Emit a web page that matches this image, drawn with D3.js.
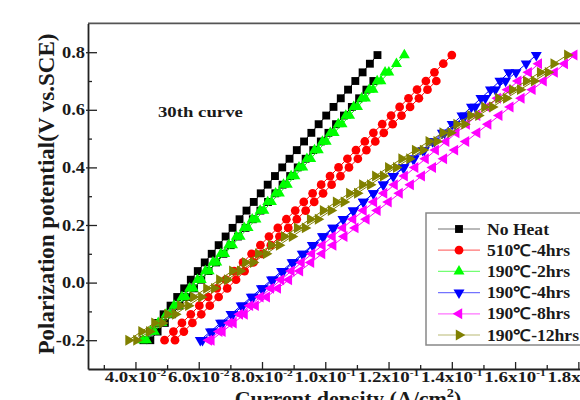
<!DOCTYPE html>
<html>
<head>
<meta charset="utf-8">
<script src="https://cdn.jsdelivr.net/npm/d3@7"></script>
<style>
  html, body { margin: 0; padding: 0; background: #fff; }
  svg { display: block; }
  text { font-family: "Liberation Serif", "Times New Roman", serif; font-weight: bold; fill: #1a1a1a; }
</style>
</head>
<body>
<div id="main"></div>
<script>
// data (potential in V vs. SCE, current density in A/cm2)
const potential = [-0.20, -0.17, -0.14, -0.11, -0.08, -0.05, -0.02, 0.01, 0.04, 0.07,
  0.10, 0.13, 0.16, 0.19, 0.22, 0.25, 0.28, 0.31, 0.34, 0.37, 0.40, 0.43, 0.46, 0.49,
  0.52, 0.55, 0.58, 0.61, 0.64, 0.67, 0.70, 0.73, 0.76, 0.79];

const noHeatA = [0.0425, 0.0446, 0.0468, 0.0489, 0.0511, 0.0532, 0.0554, 0.0575, 0.0597, 0.0619,
  0.0641, 0.0663, 0.0685, 0.0707, 0.0729, 0.0751, 0.0774, 0.0796, 0.0818, 0.0841, 0.0864, 0.0887,
  0.0910, 0.0933, 0.0956, 0.0979, 0.1003, 0.1026, 0.1049, 0.1072, 0.1095, 0.1118, 0.1141, 0.1165];
const noHeatB = [0.0447, 0.0470, 0.0493, 0.0516, 0.0539, 0.0562, 0.0585, 0.0608, 0.0631, 0.0655,
  0.0678, 0.0701, 0.0724, 0.0748, 0.0771, 0.0795, 0.0819, 0.0842, 0.0865, 0.0889, 0.0913, 0.0938,
  0.0962, 0.0986, 0.1010, 0.1034, 0.1059, 0.1084, 0.1107, 0.1130, 0.1152];

const h510A = [0.0492, 0.0520, 0.0547, 0.0575, 0.0602, 0.0630, 0.0657, 0.0685, 0.0712, 0.0740,
  0.0767, 0.0795, 0.0822, 0.0850, 0.0877, 0.0905, 0.0932, 0.0960, 0.0987, 0.1015, 0.1042, 0.1070,
  0.1097, 0.1125, 0.1152, 0.1180, 0.1208, 0.1235, 0.1263, 0.1290, 0.1318, 0.1345, 0.1373, 0.1400];
const h510B = [0.0525, 0.0553, 0.0580, 0.0608, 0.0635, 0.0663, 0.0690, 0.0718, 0.0745, 0.0773,
  0.0800, 0.0828, 0.0855, 0.0883, 0.0910, 0.0938, 0.0965, 0.0993, 0.1020, 0.1048, 0.1075, 0.1103,
  0.1130, 0.1158, 0.1185, 0.1213, 0.1241, 0.1268, 0.1296, 0.1323, 0.1351];

const h190t2A = [0.0435, 0.0460, 0.0484, 0.0509, 0.0534, 0.0559, 0.0583, 0.0608, 0.0633, 0.0657,
  0.0682, 0.0707, 0.0731, 0.0756, 0.0781, 0.0806, 0.0830, 0.0855, 0.0880, 0.0904, 0.0929, 0.0954,
  0.0978, 0.1003, 0.1028, 0.1053, 0.1077, 0.1102, 0.1127, 0.1151, 0.1176, 0.1201, 0.1225, 0.1250];
const h190t2B = [0.0423, 0.0448, 0.0472, 0.0497, 0.0522, 0.0547, 0.0571, 0.0596, 0.0621, 0.0645,
  0.0670, 0.0695, 0.0719, 0.0744, 0.0769, 0.0794, 0.0818, 0.0843, 0.0868, 0.0892, 0.0917, 0.0942,
  0.0966, 0.0991, 0.1016, 0.1041, 0.1065, 0.1090, 0.1115, 0.1139, 0.1164, 0.1189];

const h190t4A = [0.0605, 0.0637, 0.0669, 0.0702, 0.0734, 0.0766, 0.0798, 0.0830, 0.0862, 0.0895,
  0.0927, 0.0959, 0.0991, 0.1023, 0.1056, 0.1088, 0.1120, 0.1152, 0.1184, 0.1216, 0.1249, 0.1281,
  0.1313, 0.1345, 0.1377, 0.1410, 0.1442, 0.1474, 0.1506, 0.1538, 0.1570, 0.1603, 0.1635, 0.1667];
const h190t4B = [0.0612, 0.0644, 0.0676, 0.0708, 0.0740, 0.0772, 0.0804, 0.0836, 0.0868, 0.0900,
  0.0932, 0.0963, 0.0995, 0.1027, 0.1058, 0.1090, 0.1121, 0.1152, 0.1183, 0.1214, 0.1246, 0.1277,
  0.1308, 0.1339, 0.1370, 0.1401, 0.1432, 0.1462, 0.1492, 0.1522, 0.1552, 0.1580];

const h190t8A = [0.0632, 0.0665, 0.0697, 0.0730, 0.0762, 0.0795, 0.0828, 0.0860, 0.0893, 0.0925,
  0.0958, 0.0991, 0.1023, 0.1056, 0.1088, 0.1121, 0.1154, 0.1186, 0.1219, 0.1251, 0.1284, 0.1317,
  0.1349, 0.1382, 0.1414, 0.1447, 0.1480, 0.1512, 0.1545, 0.1577, 0.1610, 0.1643, 0.1675];
const h190t8B = [0.0640, 0.0675, 0.0710, 0.0745, 0.0780, 0.0815, 0.0850, 0.0885, 0.0920, 0.0955,
  0.0990, 0.1025, 0.1060, 0.1095, 0.1130, 0.1165, 0.1200, 0.1235, 0.1270, 0.1305, 0.1340, 0.1375,
  0.1410, 0.1445, 0.1480, 0.1515, 0.1550, 0.1585, 0.1620, 0.1655, 0.1690, 0.1725, 0.1757, 0.1787];

const h190t12A = [0.0378, 0.0419, 0.0460, 0.0501, 0.0542, 0.0583, 0.0624, 0.0665, 0.0706, 0.0747,
  0.0788, 0.0829, 0.0870, 0.0911, 0.0952, 0.0993, 0.1034, 0.1076, 0.1117, 0.1158, 0.1199, 0.1241,
  0.1284, 0.1327, 0.1371, 0.1415, 0.1459, 0.1503, 0.1547, 0.1591, 0.1635, 0.1679, 0.1722, 0.1765];
const h190t12B = [0.0403, 0.0444, 0.0485, 0.0526, 0.0567, 0.0608, 0.0649, 0.0690, 0.0731, 0.0772,
  0.0813, 0.0854, 0.0895, 0.0936, 0.0977, 0.1018, 0.1059, 0.1101, 0.1142, 0.1183, 0.1224, 0.1266,
  0.1309, 0.1352, 0.1396, 0.1440, 0.1484, 0.1528, 0.1572, 0.1616, 0.1660, 0.1704];

const categories = ['No Heat', '510\u2103-4hrs', '190\u2103-2hrs', '190\u2103-4hrs', '190\u2103-8hrs', '190\u2103-12hrs'];
const xMajorTicks = [0.04, 0.06, 0.08, 0.10, 0.12, 0.14, 0.16, 0.18];
const xMinorTicks = [0.03, 0.05, 0.07, 0.09, 0.11, 0.13, 0.15, 0.17];
const yMajorTicks = [-0.2, 0.0, 0.2, 0.4, 0.6, 0.8];
const yMinorTicks = [-0.1, 0.1, 0.3, 0.5, 0.7];

// series table
const series = [
  { name: categories[0], color: '#000000', shape: 'square', branches: [noHeatA, noHeatB] },
  { name: categories[1], color: '#ff0000', shape: 'circle', branches: [h510A, h510B] },
  { name: categories[2], color: '#00ff00', shape: 'up', branches: [h190t2A, h190t2B] },
  { name: categories[3], color: '#0000ff', shape: 'down', branches: [h190t4A, h190t4B] },
  { name: categories[4], color: '#ff00ff', shape: 'left', branches: [h190t8A, h190t8B] },
  { name: categories[5], color: '#808000', shape: 'right', branches: [h190t12A, h190t12B] }
];

// canvas
const width = 580, height = 400;
const plot = { left: 88, top: 23.4, bottom: 369, right: 610 };

const svg = d3.select('#main').append('svg')
  .attr('width', width)
  .attr('height', height);

const x = d3.scaleLinear().domain([0.025, 0.19]).range([plot.left, plot.right]);
const y = d3.scaleLinear().domain([-0.3, 0.9]).range([plot.bottom, plot.top]);

// symbols
const symbolPath = {
  square: d3.symbol(d3.symbolSquare, 62)(),
  circle: d3.symbol(d3.symbolCircle, 60)(),
  up: d3.symbol(d3.symbolTriangle, 52)(),
  down: d3.symbol(d3.symbolTriangle, 52)(),
  left: d3.symbol(d3.symbolTriangle, 52)(),
  right: d3.symbol(d3.symbolTriangle, 52)()
};
const symbolRot = { square: 0, circle: 0, up: 0, down: 180, left: -90, right: 90 };

// frame
svg.append('line')
  .attr('x1', plot.left).attr('x2', width)
  .attr('y1', plot.top).attr('y2', plot.top)
  .attr('stroke', '#555').attr('stroke-width', 1.6);

// axes
svg.append('g')
  .attr('transform', 'translate(0,' + plot.bottom + ')')
  .call(d3.axisBottom(x).tickValues(xMajorTicks).tickSizeInner(-7).tickSizeOuter(0).tickFormat(''));
svg.append('g')
  .attr('transform', 'translate(0,' + plot.bottom + ')')
  .call(d3.axisBottom(x).tickValues(xMinorTicks).tickSizeInner(-4).tickSizeOuter(0).tickFormat(''))
  .select('.domain').remove();

const yAxis = svg.append('g')
  .attr('transform', 'translate(' + plot.left + ',0)')
  .call(d3.axisLeft(y).tickValues(yMajorTicks).tickSizeInner(-9).tickSizeOuter(0).tickFormat(''));
svg.append('g')
  .attr('transform', 'translate(' + plot.left + ',0)')
  .call(d3.axisLeft(y).tickValues(yMinorTicks).tickSizeInner(-4).tickSizeOuter(0).tickFormat(''))
  .select('.domain').remove();

svg.selectAll('.domain').attr('stroke', '#222').attr('stroke-width', 1.8);
svg.selectAll('.tick line').attr('stroke', '#222').attr('stroke-width', 1.3);
// small outward stub on the y major ticks
yAxis.selectAll('.tick line').attr('x1', -2);

// x tick labels: mantissa x 10^exp
xMajorTicks.forEach(function (v) {
  const exp = Math.floor(Math.log10(v) + 1e-9);
  const mant = (v / Math.pow(10, exp)).toFixed(1);
  const t = svg.append('text')
    .attr('transform', 'translate(' + x(v) + ',382) scale(1.35,1)')
    .attr('text-anchor', 'middle')
    .style('font-size', '14px');
  t.append('tspan').text(mant + 'x10');
  t.append('tspan').attr('dy', -6).style('font-size', '8.5px').text(String(exp));
});

// y tick labels
yMajorTicks.forEach(function (v) {
  svg.append('text')
    .attr('transform', 'translate(85,' + (y(v) + 5.5) + ') scale(1.15,1)')
    .attr('text-anchor', 'end')
    .style('font-size', '16px')
    .text(v.toFixed(1));
});

// axis titles
svg.append('text')
  .attr('transform', 'translate(54,194) rotate(-90)')
  .attr('text-anchor', 'middle')
  .style('font-size', '23px')
  .text('Polarization potential(V vs.SCE)');

const xt = svg.append('text')
  .attr('transform', 'translate(348,406) scale(1.1,1)')
  .attr('text-anchor', 'middle')
  .style('font-size', '20px');
xt.append('tspan').text('Current density (A/cm');
xt.append('tspan').attr('dy', -9).style('font-size', '13px').text('2');
xt.append('tspan').attr('dy', 9).text(')');

// annotation
svg.append('text')
  .attr('transform', 'translate(158,117) scale(1.25,1)')
  .style('font-size', '15px')
  .text('30th curve');

// series
const line = d3.line()
  .x(function (d) { return x(d); })
  .y(function (d, i) { return y(potential[i]); });

series.forEach(function (s) {
  const g = svg.append('g');
  s.branches.forEach(function (b) {
    g.append('path')
      .attr('d', line(b))
      .attr('fill', 'none')
      .attr('stroke', s.color)
      .attr('stroke-width', 1);
    g.selectAll(null)
      .data(b)
      .enter().append('path')
      .attr('d', symbolPath[s.shape])
      .attr('transform', function (d, i) {
        return 'translate(' + x(d) + ',' + y(potential[i]) + ') rotate(' + symbolRot[s.shape] + ')';
      })
      .attr('fill', s.color);
  });
});

// legend
const legend = svg.append('g');
legend.append('rect')
  .attr('x', 426).attr('y', 213)
  .attr('width', 200).attr('height', 132)
  .attr('fill', '#fff')
  .attr('stroke', '#888').attr('stroke-width', 1.5);

series.forEach(function (s, i) {
  const ry = 229 + i * 21.2;
  legend.append('line')
    .attr('x1', 438).attr('x2', 480)
    .attr('y1', ry).attr('y2', ry)
    .attr('stroke', s.color).attr('stroke-opacity', 0.55).attr('stroke-width', 1.2);
  legend.append('path')
    .attr('d', symbolPath[s.shape])
    .attr('transform', 'translate(459,' + ry + ') rotate(' + symbolRot[s.shape] + ')')
    .attr('fill', s.color);
  legend.append('text')
    .attr('transform', 'translate(487,' + (ry + 5.5) + ') scale(1.1,1)')
    .style('font-size', '16px')
    .text(s.name);
});
</script>
</body>
</html>
